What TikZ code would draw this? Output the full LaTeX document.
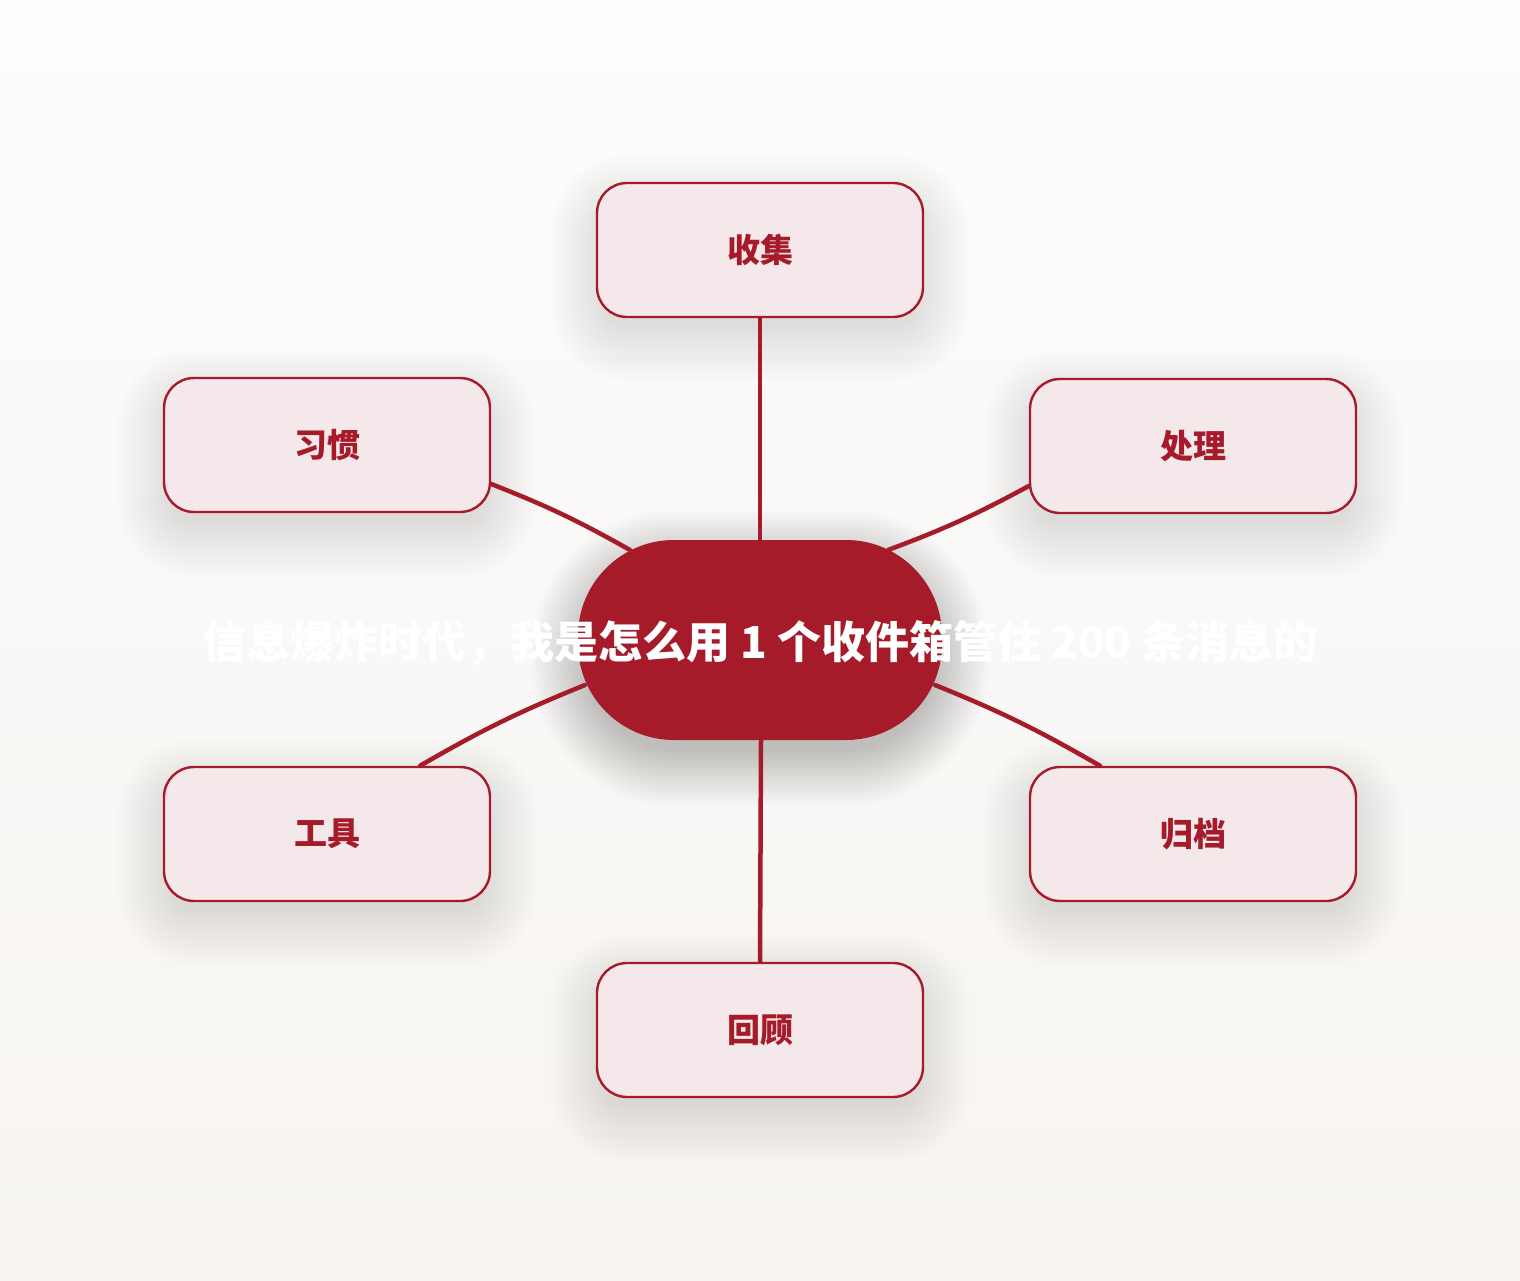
\documentclass[tikz,border=0pt]{standalone}
\usepackage{fontspec}
\newfontfamily\cjk{Noto Sans CJK SC}
\usetikzlibrary{backgrounds}
\definecolor{dred}{HTML}{A51B2A}
\definecolor{pinkfill}{HTML}{F4E8EA}
\definecolor{bgtop}{HTML}{FDFDFD}
\definecolor{bgbot}{HTML}{F7F4F0}
\tikzset{
  topicbox/.style={draw=dred, line width=2.4pt, fill=pinkfill, rounded corners=30pt,
    minimum width=326pt, minimum height=134pt, inner sep=0pt,
    font=\cjk\bfseries\fontsize{33pt}{36pt}\selectfont, text=dred},
  hubbox/.style={fill=dred, rounded corners=96pt, minimum width=364pt, minimum height=200pt, inner sep=0pt},
  titletext/.style={font=\cjk\bfseries\fontsize{44pt}{48pt}\selectfont, text=white, inner sep=0pt},
  link/.style={draw=dred, line width=4.5pt, line cap=round},
  shadowlayer/.style={fill=black, fill opacity=#1, draw=none}
}
% #1 node, #2 half width, #3 half height, #4 radius, #5 opacity per layer
\newcommand\softshade[5]{%
  \begin{scope}[shift={(#1.center)}]
  \foreach \r in {-8,-6,...,48}{
    \fill[shadowlayer=#5, rounded corners={#4pt+\r pt}]
      (-#2-\r,-#3-\r+18) rectangle (#2+\r,#3+\r+18);
  }
  \end{scope}}
\begin{document}
\begin{tikzpicture}[x=1pt,y=-1pt]
\useasboundingbox (0,0) rectangle (1520,1280);
\node[hubbox] (c) at (760,640) {};
\node[topicbox] (col) at (760,250) {收集};
\node[topicbox] (proc) at (1193,446) {处理};
\node[topicbox] (arc) at (1193,834) {归档};
\node[topicbox] (rev) at (760,1030) {回顾};
\node[topicbox] (tool) at (327,834) {工具};
\node[topicbox] (hab) at (327,445) {习惯};
\node[titletext] (t) at (760,643) {信息爆炸时代，我是怎么用 1 个收件箱管住 200 条消息的};
\begin{scope}[on background layer]
\fill[top color=bgtop, bottom color=bgbot] (0,0) rectangle (1520,1280);
\softshade{col}{163}{67}{30}{0.0055}
\softshade{proc}{163}{67}{30}{0.0055}
\softshade{arc}{163}{67}{30}{0.0055}
\softshade{rev}{163}{67}{30}{0.0055}
\softshade{tool}{163}{67}{30}{0.0055}
\softshade{hab}{163}{67}{30}{0.0055}
\softshade{c}{182}{100}{96}{0.0065}
\draw[link] (col.south) -- (c.north);
\draw[link] ([shift={(1,0)}]c.south) -- (rev.north);
\draw[link] ([shift={(0,40)}]proc.west) to[bend left=4] ([shift={(128,-90)}]c.center);
\draw[link] ([shift={(0,39)}]hab.east) to[bend left=4] ([shift={(-130,-90)}]c.center);
\draw[link] ([shift={(93,0)}]tool.north) to[bend left=4] ([shift={(-175,45)}]c.center);
\draw[link] ([shift={(-93,0)}]arc.north) to[bend right=4] ([shift={(175,45)}]c.center);
\end{scope}
\end{tikzpicture}
\end{document}
